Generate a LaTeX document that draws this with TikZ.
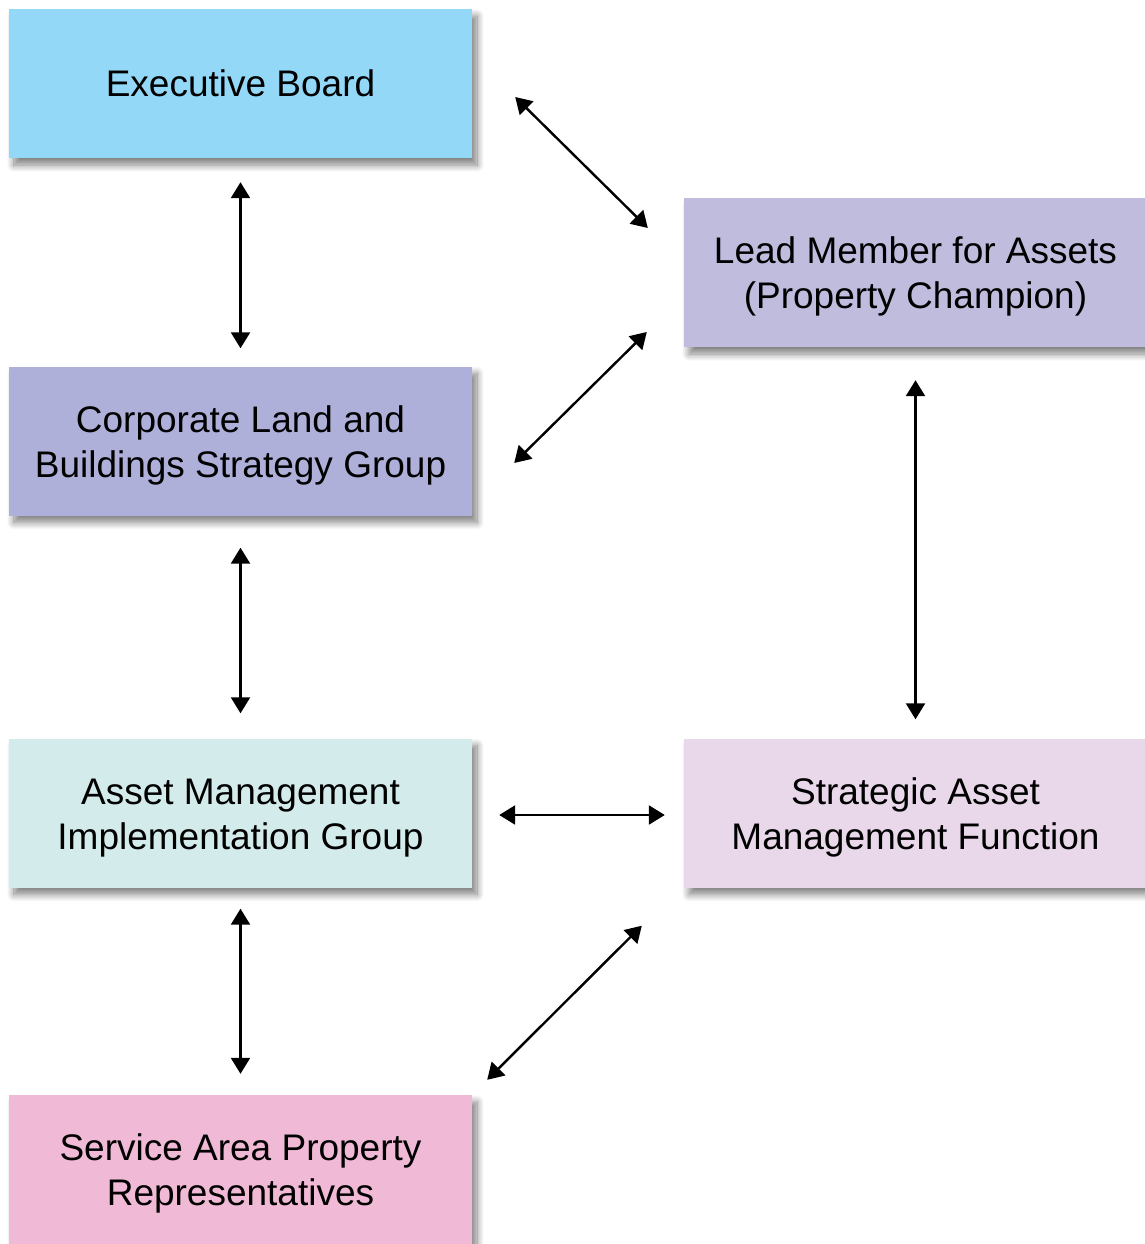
\documentclass[tikz,border=0pt]{standalone}
\usepackage{fontspec}
\setmainfont{Liberation Sans}
\usetikzlibrary{arrows.meta,shadows.blur,calc}
\definecolor{cEB}{HTML}{93D9F7}
\definecolor{cLead}{HTML}{C0BCDE}
\definecolor{cCorp}{HTML}{AEB0DA}
\definecolor{cAM}{HTML}{D3EBEA}
\definecolor{cSAM}{HTML}{E8D8EA}
\definecolor{cSvc}{HTML}{F0BAD6}
\newcommand{\toppad}{\rule{0pt}{35pt}}
\tikzset{
  boxnode/.style={rectangle, minimum width=463pt, minimum height=149pt, inner sep=0pt,
    align=center, font=\fontsize{37}{45}\selectfont,
    blur shadow={shadow xshift=5pt, shadow yshift=-7pt, shadow blur radius=7pt, shadow blur steps=12, shadow opacity=50}},
  link/.style={{Triangle[length=16pt,width=19pt]}-{Triangle[length=16pt,width=19pt]}, line width=2.4pt, black}
}
\begin{document}
\begin{tikzpicture}[x=1pt,y=1pt]
\useasboundingbox (0,0) rectangle (1145,-1244);
\node[boxnode, fill=cEB]   (eb)   at (240.5,-83.5)   {Executive Board};
\node[boxnode, fill=cLead] (lead) at (915.5,-272.5)  {\toppad Lead Member for Assets\\(Property Champion)};
\node[boxnode, fill=cCorp] (corp) at (240.5,-441)    {\toppad Corporate Land and\\Buildings Strategy Group};
\node[boxnode, fill=cAM]   (am)   at (240.5,-813)    {\toppad Asset Management\\Implementation Group};
\node[boxnode, fill=cSAM]  (sam)  at (915.5,-813)    {\toppad Strategic Asset\\Management Function};
\node[boxnode, fill=cSvc]  (svc)  at (240.5,-1169.5) {\toppad Service Area Property\\Representatives};
\draw[link, shorten <=24pt, shorten >=18pt] (eb.south) -- (corp.north);
\draw[link, shorten <=32pt, shorten >=25pt] (corp.south) -- (am.north);
\draw[link, shorten <=21pt, shorten >=21pt] (am.south) -- (svc.north);
\draw[link, shorten <=33pt, shorten >=19pt] (lead.south) -- (sam.north);
\draw[link, shorten <=27pt, shorten >=19pt] ([yshift=-2pt]am.east) -- ([yshift=-2pt]sam.west);
\draw[link] ([xshift=43pt,yshift=-13.5pt]eb.east) -- ([xshift=-36pt,yshift=44.5pt]lead.west);
\draw[link] ([xshift=-37pt,yshift=-59.5pt]lead.west) -- ([xshift=42pt,yshift=-22pt]corp.east);
\draw[link] ([xshift=15pt,yshift=15pt]svc.north east) -- ([xshift=-42pt,yshift=-38pt]sam.south west);
\end{tikzpicture}
\end{document}
